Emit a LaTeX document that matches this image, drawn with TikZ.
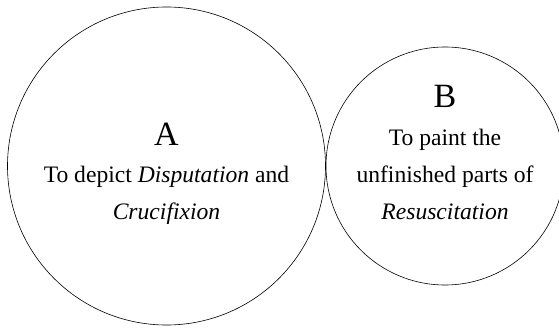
\documentclass[tikz,border=0pt]{standalone}
\usepackage{fontspec}
\setmainfont{Liberation Serif}
\usetikzlibrary{positioning}

\tikzset{
	ring/.style={draw, circle, line width=.6pt, inner sep=0pt},
	letter/.style={font=\fontsize{34}{34}\selectfont, anchor=base, inner sep=0pt},
	caption/.style={font=\fontsize{23.6}{37}\selectfont, align=center, anchor=base, inner sep=0pt}
}

\begin{document}
\begin{tikzpicture}[x=1pt,y=1pt]
	
	\useasboundingbox (0,0) rectangle (559,327);
	
	\node[
	ring,
	minimum size=318pt
	]
	(circA) at (166.5,161) {};
	
	\node[
	ring,
	minimum size=238pt
	]
	(circB) at (445,161) {};
	
	% anchor base sits on the last line
	\node[letter] (labA) at (166.5,182) {A};
	\node[caption] (txtA) at (166.5,107.5) {To depict \textit{Disputation} and\\\textit{Crucifixion}};
	
	\node[letter] (labB) at (445,219.4) {B};
	\node[caption] (txtB) at (445,107.5) {To paint the\\unfinished parts of\\\textit{Resuscitation}};
	
\end{tikzpicture}
\end{document}
